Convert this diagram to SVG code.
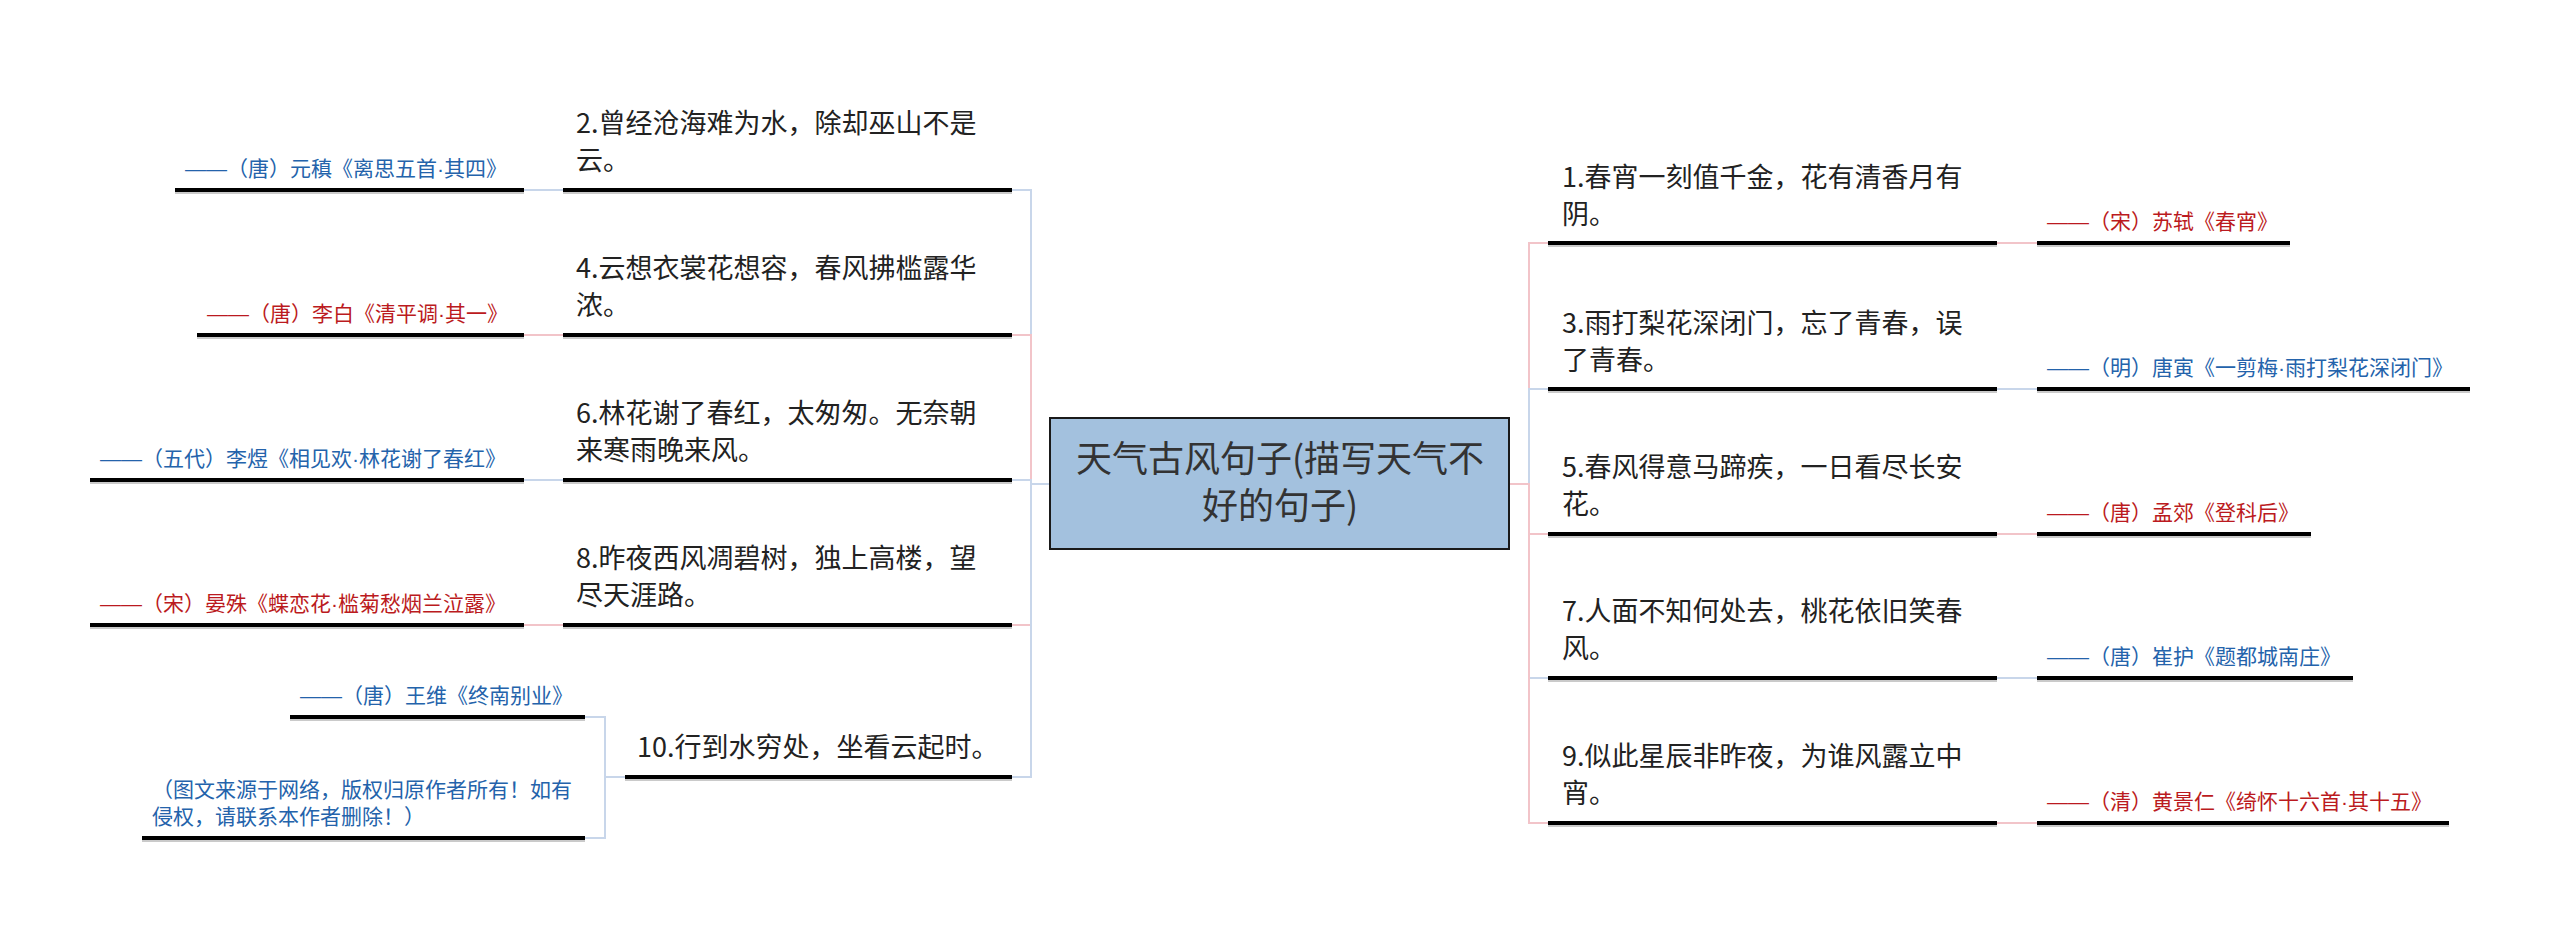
<svg xmlns="http://www.w3.org/2000/svg" width="2560" height="929" viewBox="0 0 2560 929">
<style>
text{font-family:"Noto Sans CJK SC","Noto Sans",sans-serif;}
.t{font-size:27px;fill:#222;}
.a{font-size:21px;}
.d{font-family:"Liberation Sans","Noto Sans CJK SC",sans-serif;}
.blue{fill:#2463ab;}
.red{fill:#bb1a20;}
.ul{stroke:#000;stroke-width:4;}
.sh{stroke:#b8b8b8;stroke-width:1.5;}
.cb{fill:none;stroke:#c8d6ea;stroke-width:2;}
.cp{fill:none;stroke:#f2c4c9;stroke-width:2;}
.center-t{font-size:36px;fill:#333;text-anchor:middle;}
</style>
<rect width="2560" height="929" fill="#fff"/>
<g id="connectors">
<path class="cb" d="M1050,484 H1031 V190 H1012"/>
<path class="cp" d="M1050,484 H1031 V335 H1012"/>
<path class="cb" d="M1050,484 H1031 V480 H1012"/>
<path class="cp" d="M1050,484 H1031 V625 H1012"/>
<path class="cb" d="M1050,484 H1031 V777 H1012"/>
<path class="cp" d="M1509,484 H1529 V243 H1548"/>
<path class="cb" d="M1509,484 H1529 V389 H1548"/>
<path class="cp" d="M1509,484 H1529 V534 H1548"/>
<path class="cb" d="M1509,484 H1529 V678 H1548"/>
<path class="cp" d="M1509,484 H1529 V823 H1548"/>
<path class="cb" d="M563,190 H524"/>
<path class="cp" d="M563,335 H524"/>
<path class="cb" d="M563,480 H524"/>
<path class="cp" d="M563,625 H524"/>
<path class="cb" d="M625,777 H605 V717 H585"/>
<path class="cb" d="M625,777 H605 V838 H585"/>
<path class="cp" d="M1997,243 H2037"/>
<path class="cb" d="M1997,389 H2037"/>
<path class="cp" d="M1997,534 H2037"/>
<path class="cb" d="M1997,678 H2037"/>
<path class="cp" d="M1997,823 H2037"/>
</g>
<g id="center">
<rect x="1050" y="418" width="459" height="131" fill="#a3c1de" stroke="#1a1a1a" stroke-width="2"/>
<text class="center-t" x="1280" y="472">天气古风句子(描写天气不</text>
<text class="center-t" x="1280" y="519">好的句子)</text>
</g>
<g id="n2">
<text class="t" x="576" y="133">2.曾经沧海难为水，除却巫山不是</text>
<text class="t" x="576" y="170">云。</text>
<line class="ul" x1="563" y1="190" x2="1012" y2="190"/><line class="sh" x1="563" y1="193" x2="1012" y2="193"/>
</g>
<g id="a2">
<text class="a blue" x="185" y="176"><tspan class="d">——</tspan>（唐）元稹《离思五首<tspan class="d">·</tspan>其四》</text>
<line class="ul" x1="175" y1="190" x2="524" y2="190"/><line class="sh" x1="175" y1="193" x2="524" y2="193"/>
</g>
<g id="n4">
<text class="t" x="576" y="278">4.云想衣裳花想容，春风拂槛露华</text>
<text class="t" x="576" y="315">浓。</text>
<line class="ul" x1="563" y1="335" x2="1012" y2="335"/><line class="sh" x1="563" y1="338" x2="1012" y2="338"/>
</g>
<g id="a4">
<text class="a red" x="207" y="321"><tspan class="d">——</tspan>（唐）李白《清平调<tspan class="d">·</tspan>其一》</text>
<line class="ul" x1="197" y1="335" x2="524" y2="335"/><line class="sh" x1="197" y1="338" x2="524" y2="338"/>
</g>
<g id="n6">
<text class="t" x="576" y="423">6.林花谢了春红，太匆匆。无奈朝</text>
<text class="t" x="576" y="460">来寒雨晚来风。</text>
<line class="ul" x1="563" y1="480" x2="1012" y2="480"/><line class="sh" x1="563" y1="483" x2="1012" y2="483"/>
</g>
<g id="a6">
<text class="a blue" x="100" y="466"><tspan class="d">——</tspan>（五代）李煜《相见欢<tspan class="d">·</tspan>林花谢了春红》</text>
<line class="ul" x1="90" y1="480" x2="524" y2="480"/><line class="sh" x1="90" y1="483" x2="524" y2="483"/>
</g>
<g id="n8">
<text class="t" x="576" y="568">8.昨夜西风凋碧树，独上高楼，望</text>
<text class="t" x="576" y="605">尽天涯路。</text>
<line class="ul" x1="563" y1="625" x2="1012" y2="625"/><line class="sh" x1="563" y1="628" x2="1012" y2="628"/>
</g>
<g id="a8">
<text class="a red" x="100" y="611"><tspan class="d">——</tspan>（宋）晏殊《蝶恋花<tspan class="d">·</tspan>槛菊愁烟兰泣露》</text>
<line class="ul" x1="90" y1="625" x2="524" y2="625"/><line class="sh" x1="90" y1="628" x2="524" y2="628"/>
</g>
<g id="n10">
<text class="t" x="637" y="757">10.行到水穷处，坐看云起时。</text>
<line class="ul" x1="625" y1="777" x2="1012" y2="777"/><line class="sh" x1="625" y1="780" x2="1012" y2="780"/>
</g>
<g id="a10">
<text class="a blue" x="300" y="703"><tspan class="d">——</tspan>（唐）王维《终南别业》</text>
<line class="ul" x1="290" y1="717" x2="585" y2="717"/><line class="sh" x1="290" y1="720" x2="585" y2="720"/>
</g>
<g id="note">
<text class="a blue" x="152" y="797">（图文来源于网络，版权归原作者所有！如有</text>
<text class="a blue" x="152" y="824">侵权，请联系本作者删除！）</text>
<line class="ul" x1="142" y1="838" x2="585" y2="838"/><line class="sh" x1="142" y1="841" x2="585" y2="841"/>
</g>
<g id="n1">
<text class="t" x="1562" y="187">1.春宵一刻值千金，花有清香月有</text>
<text class="t" x="1562" y="224">阴。</text>
<line class="ul" x1="1548" y1="243" x2="1997" y2="243"/><line class="sh" x1="1548" y1="246" x2="1997" y2="246"/>
</g>
<g id="a1">
<text class="a red" x="2047" y="229"><tspan class="d">——</tspan>（宋）苏轼《春宵》</text>
<line class="ul" x1="2037" y1="243" x2="2290" y2="243"/><line class="sh" x1="2037" y1="246" x2="2290" y2="246"/>
</g>
<g id="n3">
<text class="t" x="1562" y="333">3.雨打梨花深闭门，忘了青春，误</text>
<text class="t" x="1562" y="370">了青春。</text>
<line class="ul" x1="1548" y1="389" x2="1997" y2="389"/><line class="sh" x1="1548" y1="392" x2="1997" y2="392"/>
</g>
<g id="a3">
<text class="a blue" x="2047" y="375"><tspan class="d">——</tspan>（明）唐寅《一剪梅<tspan class="d">·</tspan>雨打梨花深闭门》</text>
<line class="ul" x1="2037" y1="389" x2="2470" y2="389"/><line class="sh" x1="2037" y1="392" x2="2470" y2="392"/>
</g>
<g id="n5">
<text class="t" x="1562" y="477">5.春风得意马蹄疾，一日看尽长安</text>
<text class="t" x="1562" y="514">花。</text>
<line class="ul" x1="1548" y1="534" x2="1997" y2="534"/><line class="sh" x1="1548" y1="537" x2="1997" y2="537"/>
</g>
<g id="a5">
<text class="a red" x="2047" y="520"><tspan class="d">——</tspan>（唐）孟郊《登科后》</text>
<line class="ul" x1="2037" y1="534" x2="2311" y2="534"/><line class="sh" x1="2037" y1="537" x2="2311" y2="537"/>
</g>
<g id="n7">
<text class="t" x="1562" y="621">7.人面不知何处去，桃花依旧笑春</text>
<text class="t" x="1562" y="658">风。</text>
<line class="ul" x1="1548" y1="678" x2="1997" y2="678"/><line class="sh" x1="1548" y1="681" x2="1997" y2="681"/>
</g>
<g id="a7">
<text class="a blue" x="2047" y="664"><tspan class="d">——</tspan>（唐）崔护《题都城南庄》</text>
<line class="ul" x1="2037" y1="678" x2="2353" y2="678"/><line class="sh" x1="2037" y1="681" x2="2353" y2="681"/>
</g>
<g id="n9">
<text class="t" x="1562" y="766">9.似此星辰非昨夜，为谁风露立中</text>
<text class="t" x="1562" y="803">宵。</text>
<line class="ul" x1="1548" y1="823" x2="1997" y2="823"/><line class="sh" x1="1548" y1="826" x2="1997" y2="826"/>
</g>
<g id="a9">
<text class="a red" x="2047" y="809"><tspan class="d">——</tspan>（清）黄景仁《绮怀十六首<tspan class="d">·</tspan>其十五》</text>
<line class="ul" x1="2037" y1="823" x2="2449" y2="823"/><line class="sh" x1="2037" y1="826" x2="2449" y2="826"/>
</g>
</svg>
